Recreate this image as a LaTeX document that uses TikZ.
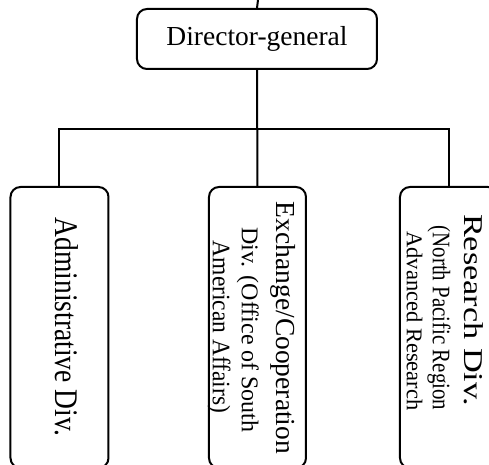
\documentclass[tikz,border=0pt]{standalone}
\usepackage{fontspec}
\setmainfont{Liberation Serif}
\newcommand{\fsz}[1]{\fontsize{#1}{#1}\selectfont}
\begin{document}
\begin{tikzpicture}[x=0.5pt,y=-0.5pt,line width=1pt,
  box/.style={draw,rounded corners=5pt,inner sep=0pt},
  lbl/.style={inner sep=0pt,anchor=base,rotate=-90}]
\useasboundingbox (0,0) rectangle (489,465);
\node[box,minimum width=120pt,minimum height=30pt,font=\fsz{13.75}] (dg) at (257,39) {Director-general};
\node[box,minimum width=49pt,minimum height=140.5pt] (adm) at (59.5,327.5) {};
\node[box,minimum width=48.5pt,minimum height=140.5pt] (exch) at (257.5,327.5) {};
\node[box,minimum width=49pt,minimum height=140.5pt] (res) at (449,327.5) {};
% labels
\node[lbl,font=\fsz{13.75}] (admt) at (55,327) {\scalebox{1}[1.2]{Administrative Div.}};
\node[lbl,font=\fsz{13.75}] (e1) at (277,328) {Exchange/Cooperation};
\node[lbl,font=\fsz{12}] (e2) at (242,330) {Div. (Office of South};
\node[lbl,font=\fsz{11.75}] (e3) at (213,327) {\scalebox{1}[1.07]{American Affairs)}};
\node[lbl,font=\fsz{13.6}] (r1) at (465,310) {\scalebox{1.26}[1]{Research Div.}};
\node[lbl,font=\fsz{12.6}] (r2) at (433,318) {\scalebox{0.83}[1]{(North Pacific Region}};
\node[lbl,font=\fsz{11.25}] (r3) at (407,321) {Advanced Research};
% connectors
\coordinate (topend) at (258,0);
\coordinate (bar) at (258,129);
\draw (topend) -- (dg.north);
\draw (dg.south) -- (exch.north);
\draw (adm.north) |- (bar) -| (res.north);
\end{tikzpicture}
\end{document}
